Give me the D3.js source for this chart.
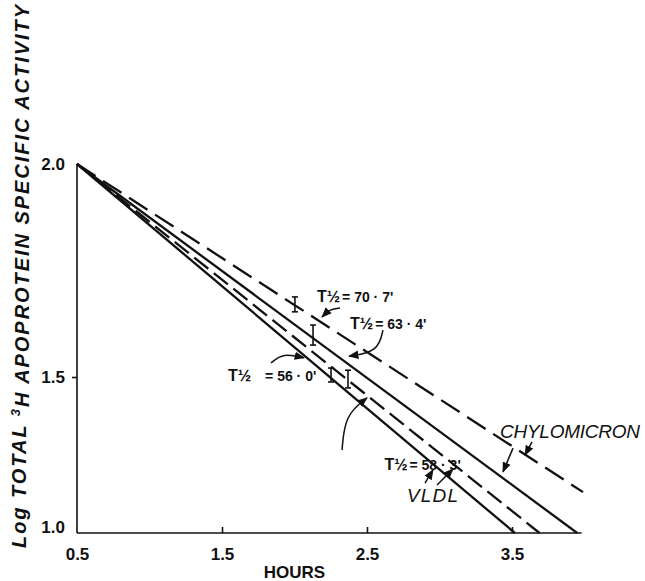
<!DOCTYPE html>
<html>
  <head>
    <meta charset="utf-8">
    <title>Apoprotein specific activity</title>
    <script src="https://cdn.jsdelivr.net/npm/d3@7"></script>
    <style>
      body { margin: 0; background: #fff; }
      svg { display: block; }
      text { font-family: "Liberation Sans", Arial, sans-serif; fill: #111; }
      .axis path, .axis line { stroke: #111; stroke-width: 1.6; }
      .axis text { font-size: 17px; font-weight: bold; }
      .note { font-size: 14px; font-weight: bold; }
      .tag { font-size: 19px; font-style: italic; }
    </style>
  </head>
  <body>
    <svg id="chart" width="645" height="581">
      <defs>
        <marker id="head" viewBox="0 0 10 10" refX="9" refY="5" markerWidth="7" markerHeight="7" orient="auto">
          <path d="M0,1 L10,5 L0,9 Z" fill="#111"></path>
        </marker>
      </defs>
    </svg>
    <script>
      // values (hours, log activity as marked on its axis)
      xTicks = [0.5, 1.5, 2.5, 3.5];
      yTicks = [1.0, 1.5, 2.0];
      seriesNames = ["chylomicronDashed", "chylomicronSolid", "vldlDashed", "vldlSolid"];
      halfLives = ["70 · 7'", "63 · 4'", "56 · 0'", "58 · 3'"];
      startPoint = [0.5, 2.0];
      endPoints = [[3.99, 1.131], [3.95, 1.0], [3.69, 1.0], [3.52, 1.0]];
      dashed = [true, false, true, false];
      // error bars: hours, low, high
      barX = [2.003, 2.128, 2.252, 2.369];
      barLow = [1.653, 1.575, 1.484, 1.465];
      barHigh = [1.688, 1.622, 1.521, 1.516];
      // T1/2 labels and their arrows (tail, bend, head)
      noteAt = [[2.155, 1.676], [2.383, 1.613], [1.541, 1.487], [2.62, 1.202]];
      noteArrows = [
        [[2.314, 1.662], [2.245, 1.660], [2.190, 1.641]],
        [[2.610, 1.610], [2.576, 1.559], [2.376, 1.549]],
        [[1.838, 1.533], [1.921, 1.556], [2.066, 1.545]],
        [[2.328, 1.266], [2.348, 1.378], [2.500, 1.433]]
      ];
      tagNames = ["CHYLOMICRON", "VLDL"];
      tagAt = [[3.417, 1.304], [2.776, 1.099]];
      tagArrows = [
        [[3.507, 1.272], [3.438, 1.196]],
        [[3.638, 1.292], [3.590, 1.250]],
        [[2.900, 1.160], [2.955, 1.202]],
        [[2.983, 1.154], [3.093, 1.205]]
      ];

      chart = d3.select("#chart");
      x = d3.scaleLinear().domain([0.5, 3.98]).range([77, 581.6]);
      // the drawn axis is not evenly spaced: 1.5 sits below the midpoint
      y = d3.scaleLinear().domain([1.0, 1.5, 2.0]).range([533, 377, 164]);

      // axes
      chart.append("g")
        .attr("class", "axis")
        .attr("transform", "translate(0, " + y(1.0) + ")")
        .call(d3.axisBottom(x).tickValues(xTicks).tickSize(-6).tickPadding(15).tickFormat(d3.format(".1f")))
        .call(function(g) { g.select(".domain").attr("d", "M" + x(0.5) + ",0H" + x(3.98)); })
        .call(function(g) { g.select(".tick:first-of-type line").remove(); });
      chart.append("g")
        .attr("class", "axis")
        .attr("transform", "translate(" + x(0.5) + ", 0)")
        .call(d3.axisLeft(y).tickValues(yTicks).tickSize(5).tickPadding(7).tickFormat(d3.format(".1f")))
        .call(function(g) { g.select(".domain").attr("d", "M0," + y(1.0) + "V" + y(2.0)); })
        .call(function(g) { g.selectAll(".tick").filter(function(d) { return d != 1.5; }).select("line").remove(); })
        .call(function(g) { g.selectAll(".tick").filter(function(d) { return d == 1.0; }).select("text").attr("dy", "-0.05em"); });

      // axis titles
      chart.append("text")
        .attr("x", x(2.0))
        .attr("y", 578)
        .attr("text-anchor", "middle")
        .style("font-size", "17px")
        .style("font-weight", "bold")
        .text("HOURS");
      yTitle = chart.append("text")
        .attr("transform", "translate(26, 548) rotate(-90)")
        .attr("textLength", 543)
        .attr("lengthAdjust", "spacing")
        .style("font-size", "20px")
        .style("font-style", "italic")
        .style("font-weight", "bold");
      yTitle.append("tspan").text("Log TOTAL ");
      yTitle.append("tspan").attr("dy", "-0.45em").style("font-size", "13px").text("3");
      yTitle.append("tspan").attr("dy", "0.45em").text("H APOPROTEIN SPECIFIC ACTIVITY");

      // regression lines
      line = d3.line().x(function(d) { return x(d[0]); }).y(function(d) { return y(d[1]); });
      chart.selectAll(".plot")
        .data(seriesNames)
        .join("path")
        .attr("class", "plot")
        .attr("d", function(d, i) { return line([startPoint, endPoints[i]]); })
        .attr("fill", "none")
        .attr("stroke", "#111")
        .attr("stroke-width", 2.3)
        .attr("stroke-dasharray", function(d, i) { return dashed[i] ? (i == 0 ? "22 9" : "18 7") : null; });

      // error bars
      bars = chart.selectAll(".bar")
        .data(barX)
        .join("g")
        .attr("class", "bar")
        .attr("stroke", "#111")
        .attr("stroke-width", 1.6);
      bars.append("line")
        .attr("x1", function(d) { return x(d); })
        .attr("x2", function(d) { return x(d); })
        .attr("y1", function(d, i) { return y(barHigh[i]); })
        .attr("y2", function(d, i) { return y(barLow[i]); });
      [barHigh, barLow].forEach(function(ends) {
        bars.append("line")
          .attr("x1", function(d) { return x(d) - 3; })
          .attr("x2", function(d) { return x(d) + 3; })
          .attr("y1", function(d, i) { return y(ends[i]); })
          .attr("y2", function(d, i) { return y(ends[i]); });
      });

      // half-life notes
      notes = chart.selectAll(".note")
        .data(halfLives)
        .join("text")
        .attr("class", "note")
        .attr("x", function(d, i) { return x(noteAt[i][0]); })
        .attr("y", function(d, i) { return y(noteAt[i][1]); });
      notes.append("tspan").style("font-size", "16px").text("T½");
      notes.append("tspan").attr("dx", function(d, i) { return i == 2 ? 14 : 2; }).text(function(d) { return "= " + d; });

      curve = d3.line().x(function(d) { return x(d[0]); }).y(function(d) { return y(d[1]); }).curve(d3.curveBasis);
      chart.selectAll(".noteArrow")
        .data(noteArrows)
        .join("path")
        .attr("class", "noteArrow")
        .attr("d", curve)
        .attr("fill", "none")
        .attr("stroke", "#111")
        .attr("stroke-width", 1.5)
        .attr("marker-end", "url(#head)");

      // series tags
      chart.selectAll(".tag")
        .data(tagNames)
        .join("text")
        .attr("class", "tag")
        .attr("x", function(d, i) { return x(tagAt[i][0]); })
        .attr("y", function(d, i) { return y(tagAt[i][1]); })
        .attr("textLength", function(d, i) { return i == 0 ? 140 : 51; })
        .text(function(d) { return d; });
      chart.selectAll(".tagArrow")
        .data(tagArrows)
        .join("path")
        .attr("class", "tagArrow")
        .attr("d", line)
        .attr("fill", "none")
        .attr("stroke", "#111")
        .attr("stroke-width", 1.5)
        .attr("marker-end", "url(#head)");
    </script>
  </body>
</html>
